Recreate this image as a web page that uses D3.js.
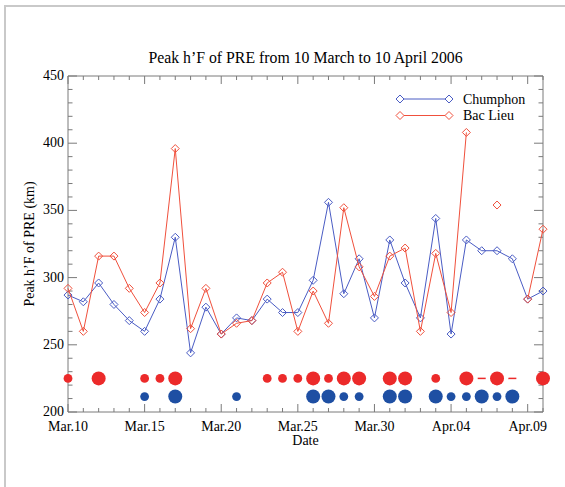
<!DOCTYPE html>
<html><head><meta charset="utf-8">
<script src="https://cdn.jsdelivr.net/npm/d3@7"></script>
<style>body{margin:0;background:#fff}svg{display:block}</style>
</head><body>
<script>
// ---- data ----
const startDate = [2006, 2, 10]; // 10 March 2006
const chumphon = [287,282,296,280,268,260,284,330,244,278,258,270,268,284,274,274,298,356,288,314,270,328,296,270,344,258,328,320,320,314,284,290];
const bacLieu  = [292,260,316,316,292,274,296,396,262,292,258,266,268,296,304,260,290,266,352,308,286,316,322,260,318,274,408,null,354,null,284,336];
const seriesNames = ["Chumphon","Bac Lieu"];
const xTickDays = [0,5,10,15,20,25,30];
const xTickLabels = ["Mar.10","Mar.15","Mar.20","Mar.25","Mar.30","Apr.04","Apr.09"];
const yTicks = [200,250,300,350,400,450];
// PRE occurrence markers (day offset, level 1 = weak, 2 = strong)
const bacLieuDotDays   = [0,2,5,6,7,13,14,15,16,17,18,19,21,22,24,26,28,31];
const bacLieuDotLevels = [1,2,1,1,2,1,1,1,2,1,2,2,2,2,1,2,2,2];
const bacLieuGapDays   = [27,29];
const chumphonDotDays   = [5,7,11,16,17,18,19,21,22,24,25,26,27,28,29];
const chumphonDotLevels = [1,2,1,2,2,1,1,2,2,2,1,1,2,1,2];
const dotRowValues = {bac: 225, chum: 211.5};

// ---- layout ----
const W = 565, H = 487;
const m = {l: 68, r: 543, t: 76, b: 412};
const blue = "#4a5cc4", red = "#f0503c";
const blueDot = "#1e4fa3", redDot = "#ec2a2a";
const axisCol = "#7a7a7a";
const font = "'Liberation Serif','Times New Roman',serif";

const svg = d3.select("body").append("svg").attr("width", W).attr("height", H);

// outer frame
svg.append("path").attr("d", `M5,${H} L5,6 L${W},6`).attr("fill","none").attr("stroke","#c9c9c9").attr("stroke-width",2);

const dayDate = i => new Date(startDate[0], startDate[1], startDate[2] + i);
const x = d3.scaleTime().domain([dayDate(0), dayDate(31)]).range([m.l, m.r]);
const y = d3.scaleLinear().domain([200,450]).range([m.b, m.t]);
const r = d3.scaleOrdinal().domain([1,2]).range([4.4,7]);

// axes: ticks inward on all four sides
const allDays = d3.range(0, 32).map(dayDate);
const minorY = d3.range(200, 451, 10);
function tickLen(isMajor, maj, min){ return isMajor ? maj : min; }

const g = svg.append("g");
// bottom & top
[[m.b, -1],[m.t, 1]].forEach(([yy, dir]) => {
  const ax = g.append("g").attr("transform", `translate(0,${yy})`);
  ax.append("line").attr("x1", m.l).attr("x2", m.r).attr("stroke", axisCol);
  ax.selectAll("line.t").data(allDays).join("line").attr("class","t")
    .attr("x1", d => x(d)).attr("x2", d => x(d))
    .attr("y1", 0).attr("y2", (d,i) => dir * tickLen(xTickDays.includes(i), 8, 4))
    .attr("stroke", axisCol);
});
// left & right
[[m.l, 1],[m.r, -1]].forEach(([xx, dir]) => {
  const ax = g.append("g").attr("transform", `translate(${xx},0)`);
  ax.append("line").attr("y1", m.t).attr("y2", m.b).attr("stroke", axisCol);
  ax.selectAll("line.t").data(minorY).join("line").attr("class","t")
    .attr("y1", d => y(d)).attr("y2", d => y(d))
    .attr("x1", 0).attr("x2", d => dir * tickLen(d % 50 === 0, 9, 4.5))
    .attr("stroke", axisCol);
});

// tick labels
svg.append("g").selectAll("text").data(xTickDays).join("text")
  .attr("x", d => x(dayDate(d))).attr("y", m.b + 19)
  .attr("text-anchor","middle").attr("font-family", font).attr("font-size", 14)
  .text((d,i) => xTickLabels[i]);
svg.append("g").selectAll("text").data(yTicks).join("text")
  .attr("x", m.l - 4).attr("y", d => y(d) + 4)
  .attr("text-anchor","end").attr("font-family", font).attr("font-size", 14)
  .text(d => d);

// titles
svg.append("text").attr("x", (m.l+m.r)/2).attr("y", 63).attr("text-anchor","middle")
  .attr("font-family", font).attr("font-size", 15.8).text("Peak h\u2019F of PRE from 10 March to 10 April 2006");
svg.append("text").attr("x", (m.l+m.r)/2).attr("y", 445).attr("text-anchor","middle")
  .attr("font-family", font).attr("font-size", 14).text("Date");
svg.append("text").attr("transform", `translate(34,${(m.t+m.b)/2}) rotate(-90)`).attr("text-anchor","middle")
  .attr("font-family", font).attr("font-size", 14).text("Peak h\u2019F of PRE (km)");

// lines
const line = d3.line().defined(d => d.v !== null).x(d => x(dayDate(d.i))).y(d => y(d.v));
const diamond = s => `M0,${-s}L${s},0L0,${s}L${-s},0Z`;
[[chumphon, blue],[bacLieu, red]].forEach(([vals, col]) => {
  const pts = vals.map((v,i) => ({i, v}));
  svg.append("path").datum(pts).attr("d", line).attr("fill","none").attr("stroke", col).attr("stroke-width", 1);
  svg.append("g").selectAll("path").data(pts.filter(d => d.v !== null)).join("path")
    .attr("transform", d => `translate(${x(dayDate(d.i))},${y(d.v)})`)
    .attr("d", diamond(4)).attr("fill","none").attr("stroke", col).attr("stroke-width", 1);
});

// PRE occurrence dots
svg.append("g").selectAll("circle").data(bacLieuDotDays).join("circle")
  .attr("cx", d => x(dayDate(d))).attr("cy", y(dotRowValues.bac))
  .attr("r", (d,i) => r(bacLieuDotLevels[i])).attr("fill", redDot);
svg.append("g").selectAll("line").data(bacLieuGapDays).join("line")
  .attr("x1", d => x(dayDate(d)) - 4).attr("x2", d => x(dayDate(d)) + 4)
  .attr("y1", y(dotRowValues.bac)).attr("y2", y(dotRowValues.bac))
  .attr("stroke", redDot).attr("stroke-width", 1.5);
svg.append("g").selectAll("circle").data(chumphonDotDays).join("circle")
  .attr("cx", d => x(dayDate(d))).attr("cy", y(dotRowValues.chum))
  .attr("r", (d,i) => r(chumphonDotLevels[i])).attr("fill", blueDot);

// legend
const lg = svg.append("g");
[[blue, 99],[red, 115.5]].forEach(([col, yy], k) => {
  lg.append("line").attr("x1", 400).attr("x2", 449).attr("y1", yy).attr("y2", yy).attr("stroke", col);
  [400, 449].forEach(xx => lg.append("path").attr("transform", `translate(${xx},${yy})`)
    .attr("d", diamond(4)).attr("fill","#fff").attr("stroke", col));
  lg.append("text").attr("x", 463).attr("y", yy + 4.5).attr("font-family", font).attr("font-size", 14).text(seriesNames[k]);
});
</script>
</body></html>
